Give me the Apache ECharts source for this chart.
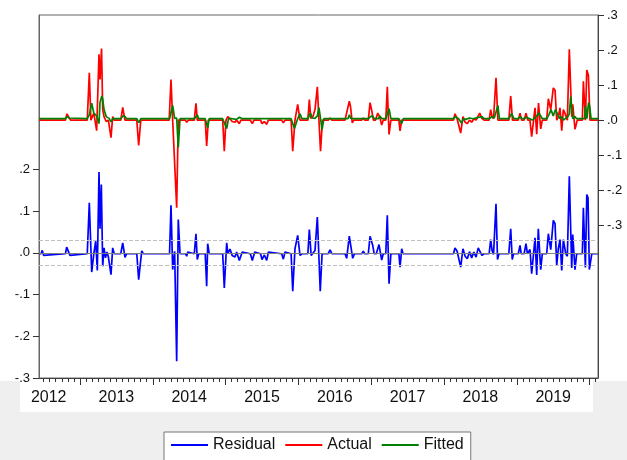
<!DOCTYPE html>
<html>
<head>
<meta charset="utf-8">
<script src="https://cdn.jsdelivr.net/npm/echarts@6/dist/echarts.min.js"></script>
<style>
  html, body { margin: 0; padding: 0; background: #efefef; }
  #chart { width: 627px; height: 460px; }
</style>
</head>
<body>
<div id="chart"></div>
<script>
// [decimal year, value] pairs
var residual = [
  [2012.437,-0.002],[2012.465,-0.002],[2012.482,0.006],[2012.50,-0.006],[2012.52,-0.002],
  [2012.80,-0.002],[2012.817,0.014],[2012.84,0.010],[2012.863,-0.006],[2012.88,-0.002],
  [2013.10,-0.002],[2013.128,0.12],[2013.161,-0.046],[2013.19,-0.002],[2013.216,0.028],[2013.238,-0.042],
  [2013.261,0.194],[2013.275,0.058],[2013.293,0.164],[2013.312,-0.032],[2013.33,0.012],[2013.35,-0.012],
  [2013.37,0.002],[2013.39,-0.010],[2013.426,-0.052],[2013.449,0.012],[2013.47,-0.002],
  [2013.56,-0.002],[2013.587,0.024],[2013.618,-0.011],[2013.64,-0.002],
  [2013.78,-0.002],[2013.806,-0.064],[2013.848,0.005],[2013.87,-0.002],
  [2014.23,-0.002],[2014.250,0.114],[2014.273,-0.040],[2014.30,0.004],[2014.328,-0.26],[2014.350,0.08],[2014.374,-0.002],
  [2014.45,-0.002],[2014.466,-0.008],[2014.48,0.002],[2014.50,-0.002],
  [2014.57,-0.002],[2014.593,0.046],[2014.611,-0.016],[2014.63,-0.002],
  [2014.72,-0.002],[2014.740,-0.08],[2014.754,0.022],[2014.775,-0.002],
  [2014.96,-0.002],[2014.982,-0.084],[2015.015,0.024],[2015.03,-0.002],[2015.06,0.009],[2015.09,-0.006],
  [2015.11,-0.004],[2015.129,-0.010],[2015.152,0.002],[2015.188,-0.018],[2015.229,0.002],[2015.25,-0.002],
  [2015.34,-0.002],[2015.367,-0.018],[2015.40,0.002],[2015.42,-0.002],
  [2015.48,-0.002],[2015.50,-0.016],[2015.532,-0.005],[2015.565,-0.018],[2015.587,0.002],[2015.60,-0.002],
  [2015.77,-0.002],[2015.793,-0.015],[2015.816,0.002],[2015.83,-0.002],
  [2015.90,-0.002],[2015.922,-0.092],[2015.953,0.010],[2015.99,0.042],[2016.022,-0.006],[2016.05,-0.002],
  [2016.13,-0.002],[2016.150,0.056],[2016.175,-0.006],[2016.20,-0.004],[2016.228,0.006],[2016.260,0.086],
  [2016.300,-0.092],[2016.325,-0.002],
  [2016.41,-0.002],[2016.434,0.007],[2016.46,-0.002],
  [2016.64,-0.002],[2016.663,-0.013],[2016.699,0.040],[2016.723,0.038],[2016.746,-0.013],[2016.77,-0.002],
  [2016.87,-0.002],[2016.891,0.004],[2016.91,-0.002],
  [2016.96,-0.002],[2016.984,0.04],[2017.021,0.018],[2017.04,-0.002],[2017.07,-0.002],[2017.107,0.020],
  [2017.144,-0.017],[2017.165,-0.002],
  [2017.20,-0.002],[2017.221,0.090],[2017.245,-0.074],[2017.27,-0.002],
  [2017.38,-0.002],[2017.396,-0.034],[2017.419,0.010],[2017.437,-0.002],
  [2018.13,-0.002],[2018.151,0.012],[2018.18,0.004],[2018.229,-0.034],[2018.26,0.010],[2018.29,-0.008],
  [2018.32,-0.014],[2018.35,0.003],[2018.38,-0.012],[2018.41,0.002],[2018.44,-0.010],[2018.47,0.012],
  [2018.49,0.005],[2018.52,-0.006],[2018.55,-0.002],
  [2018.62,-0.002],[2018.641,0.032],[2018.66,0.006],[2018.68,-0.004],[2018.714,0.118],[2018.735,-0.016],[2018.755,-0.002],
  [2018.89,-0.002],[2018.916,0.058],[2018.937,-0.016],[2018.955,-0.002],
  [2019.02,-0.002],[2019.044,0.018],[2019.06,-0.002],
  [2019.10,-0.002],[2019.126,0.022],[2019.145,-0.002],
  [2019.181,0.008],[2019.204,-0.050],[2019.250,0.036],[2019.273,-0.053],[2019.295,0.058],[2019.328,-0.040],[2019.35,-0.002],
  [2019.41,-0.002],[2019.433,0.046],[2019.466,0.008],[2019.501,0.078],[2019.525,0.070],[2019.548,-0.030],
  [2019.570,0.010],[2019.593,0.032],[2019.617,-0.042],[2019.639,0.032],[2019.672,-0.002],[2019.694,-0.008],
  [2019.721,0.184],[2019.754,-0.036],[2019.768,0.044],[2019.799,-0.040],[2019.822,-0.002],
  [2019.90,-0.002],[2019.914,0.108],[2019.942,-0.035],[2019.961,0.140],[2019.978,0.132],[2019.996,-0.040],[2020.03,-0.002],
  [2020.115,-0.002]
];

var actual = [
  [2012.437,0],[2012.80,0],[2012.821,0.018],[2012.845,0.014],[2012.87,0],
  [2013.10,0],[2013.128,0.135],[2013.15,0.0],[2013.19,0.02],[2013.229,-0.03],[2013.261,0.188],[2013.275,0.116],
  [2013.296,0.204],[2013.312,0.03],[2013.33,0.01],[2013.36,-0.004],[2013.39,0.0],[2013.426,-0.05],[2013.449,0.01],[2013.47,0],
  [2013.56,0],[2013.587,0.036],[2013.618,0.0],[2013.64,0],
  [2013.78,0],[2013.806,-0.072],[2013.835,0],
  [2014.225,0],[2014.250,0.116],[2014.273,0.0],[2014.30,0.005],[2014.328,-0.25],[2014.350,0.0],[2014.374,0],
  [2014.445,0],[2014.466,-0.006],[2014.49,0],
  [2014.57,0],[2014.593,0.048],[2014.611,0.0],[2014.63,0],
  [2014.72,0],[2014.740,-0.074],[2014.762,0],
  [2014.96,0],[2014.982,-0.089],[2015.005,0],[2015.03,0.01],[2015.06,0.004],[2015.09,-0.004],[2015.11,0],
  [2015.129,-0.006],[2015.15,0],[2015.188,-0.01],[2015.21,0],
  [2015.34,0],[2015.367,-0.01],[2015.39,0],
  [2015.48,0],[2015.50,-0.01],[2015.53,-0.004],[2015.565,-0.012],[2015.587,0],
  [2015.77,0],[2015.793,-0.008],[2015.816,0],
  [2015.90,0],[2015.922,-0.089],[2015.953,0],[2015.99,0.045],[2016.022,0.0],[2016.05,0],
  [2016.13,0],[2016.150,0.059],[2016.17,0.005],[2016.20,0.01],[2016.228,0.03],[2016.260,0.095],[2016.282,0.0],
  [2016.304,-0.089],[2016.33,0],
  [2016.41,0],[2016.434,0.006],[2016.46,0],
  [2016.64,0],[2016.663,-0.004],[2016.699,0.054],[2016.715,0.04],[2016.74,-0.008],[2016.76,0],
  [2016.87,0],[2016.891,0.006],[2016.91,0],
  [2016.96,0],[2016.984,0.05],[2017.005,0.03],[2017.03,0.0],[2017.06,0.0],[2017.09,0.02],[2017.115,0.01],
  [2017.144,-0.014],[2017.165,0],
  [2017.20,0],[2017.221,0.095],[2017.245,-0.041],[2017.27,0],
  [2017.38,0],[2017.396,-0.031],[2017.419,0.0],
  [2018.13,0],[2018.151,0.018],[2018.18,0.004],[2018.229,-0.037],[2018.26,0.01],[2018.29,-0.006],[2018.32,-0.01],
  [2018.35,0.0],[2018.38,-0.006],[2018.41,0.004],[2018.44,0.0],[2018.47,0.012],[2018.49,0.02],[2018.52,0.005],[2018.55,0],
  [2018.62,0],[2018.641,0.030],[2018.66,0.01],[2018.68,0.004],[2018.714,0.121],[2018.74,0.0],[2018.76,0],
  [2018.89,0],[2018.916,0.069],[2018.94,0],
  [2019.02,0],[2019.044,0.02],[2019.065,0],[2019.10,0],[2019.126,0.02],[2019.15,0],
  [2019.18,0],[2019.204,-0.047],[2019.250,0.035],[2019.273,-0.040],[2019.298,0.049],[2019.328,-0.025],[2019.35,0],
  [2019.41,0],[2019.433,0.061],[2019.466,0.03],[2019.501,0.092],[2019.525,0.085],[2019.548,0.0],[2019.570,0.01],
  [2019.593,0.035],[2019.617,-0.03],[2019.639,0.03],[2019.66,0.02],[2019.694,0.0],[2019.721,0.202],[2019.754,0.01],
  [2019.768,0.045],[2019.799,-0.026],[2019.83,0],
  [2019.90,0],[2019.914,0.111],[2019.942,0.0],[2019.961,0.143],[2019.983,0.128],[2020.005,0],
  [2020.115,0]
];

var fitted = [
  [2012.437,0.004],[2012.80,0.004],[2012.821,0.01],[2012.85,0.006],[2012.87,0.004],
  [2013.10,0.004],[2013.128,0.015],[2013.161,0.048],[2013.19,0.02],[2013.229,0.012],[2013.261,-0.01],
  [2013.275,0.05],[2013.30,0.069],[2013.312,0.06],[2013.33,0.03],[2013.36,0.01],[2013.40,0.005],[2013.426,-0.005],[2013.45,0.004],
  [2013.56,0.004],[2013.59,0.012],[2013.62,0.01],[2013.64,0.004],
  [2013.78,0.004],[2013.81,-0.007],[2013.835,0.004],
  [2014.23,0.004],[2014.25,0.004],[2014.273,0.042],[2014.30,0.005],[2014.328,0.006],[2014.350,-0.078],[2014.374,0.004],
  [2014.57,0.004],[2014.593,0.004],[2014.611,0.015],[2014.63,0.004],
  [2014.72,0.004],[2014.740,0.004],[2014.754,-0.022],[2014.775,0.004],
  [2014.96,0.004],[2014.982,0.004],[2015.015,-0.024],[2015.04,0.004],
  [2015.09,0.004],[2015.11,0.006],[2015.15,0.002],[2015.19,0.008],[2015.23,0.004],
  [2015.90,0.004],[2015.922,0.004],[2015.945,-0.024],[2015.99,0.004],[2016.022,0.018],[2016.05,0.004],
  [2016.13,0.004],[2016.165,0.02],[2016.19,0.006],[2016.228,0.005],[2016.26,0.012],[2016.282,0.036],
  [2016.304,0.004],[2016.325,-0.027],[2016.35,0.004],
  [2016.68,0.004],[2016.70,0.015],[2016.72,0.005],[2016.746,0.006],[2016.77,0.004],
  [2016.96,0.004],[2016.99,0.01],[2017.02,0.012],[2017.04,0.004],
  [2017.10,0.004],[2017.12,0.012],[2017.145,0.004],
  [2017.20,0.004],[2017.221,0.006],[2017.245,0.033],[2017.27,0.004],
  [2017.38,0.004],[2017.40,0.004],[2017.42,-0.01],[2017.44,0.004],
  [2018.13,0.004],[2018.16,0.01],[2018.20,0.004],[2018.24,-0.008],[2018.27,0.004],[2018.30,0.002],
  [2018.35,0.006],[2018.40,0.004],[2018.47,0.008],[2018.52,0.01],[2018.55,0.004],
  [2018.62,0.004],[2018.66,0.01],[2018.69,0.006],[2018.714,0.006],[2018.74,0.042],[2018.76,0.004],
  [2018.89,0.004],[2018.93,0.019],[2018.96,0.004],
  [2019.02,0.004],[2019.05,0.01],[2019.07,0.004],[2019.10,0.004],[2019.13,0.008],[2019.15,0.004],
  [2019.18,0.004],[2019.21,0.0],[2019.25,0.006],[2019.273,0.012],[2019.30,0.02],[2019.328,0.012],[2019.35,0.004],
  [2019.41,0.004],[2019.44,0.015],[2019.47,0.03],[2019.50,0.012],[2019.53,0.03],[2019.55,0.025],[2019.59,0.004],
  [2019.617,0.01],[2019.64,0.0],[2019.66,0.004],[2019.70,0.01],[2019.721,0.018],[2019.74,0.067],[2019.768,0.004],
  [2019.799,0.01],[2019.82,0.004],
  [2019.90,0.004],[2019.93,0.004],[2019.944,0.04],[2019.963,0.004],[2019.985,0.05],[2020.0,0.04],[2020.02,0.004],
  [2020.115,0.004]
];

var seriesNames = ['Residual', 'Actual', 'Fitted'];
var seriesColors = ['#0000ff', '#ff0000', '#008000'];
var yearLabelPos = [2012.57, 2013.5, 2014.5, 2015.5, 2016.5, 2017.5, 2018.5, 2019.5];
var yearTicks = [2013, 2014, 2015, 2016, 2017, 2018, 2019, 2020];
var leftTicks = [-0.3, -0.2, -0.1, 0, 0.1, 0.2];
var rightTicks = [-0.3, -0.2, -0.1, 0, 0.1, 0.2, 0.3];
var seBand = 0.032;

var xMin = 2012.437, xMax = 2020.115;
// monthly tick positions (Jul 2012 .. Feb 2020)
var monthTicks = [];
for (var m = 0; m < 92; m++) monthTicks.push(2012.5 + m / 12);

var fmt = function (v) {
  if (Math.abs(v) < 1e-9) return '.0';
  return (v < 0 ? '-' : '') + '.' + Math.round(Math.abs(v) * 10);
};

var chart = echarts.init(document.getElementById('chart'));
var font = 'Arial, "Liberation Sans", sans-serif';
var axisColor = '#666';
var tickColor = '#333';

chart.setOption({
  animation: false,
  backgroundColor: '#efefef',
  graphic: [
    { type: 'rect', z: -100, shape: { x: 0, y: 0, width: 627, height: 381 }, style: { fill: '#ffffff' } },
    { type: 'rect', z: -100, shape: { x: 20, y: 381, width: 573, height: 31 }, style: { fill: '#ffffff' } }
  ],
  grid: {
    left: 39, right: 29, top: 15, bottom: 82,
    show: true, borderColor: axisColor, borderWidth: 1, backgroundColor: '#ffffff'
  },
  legend: {
    data: seriesNames,
    left: 164, top: 432,
    padding: [5, 7, 30, 7],
    backgroundColor: '#ffffff',
    borderColor: '#777',
    borderWidth: 1,
    borderRadius: 0,
    icon: 'rect',
    itemWidth: 37,
    itemHeight: 2,
    itemGap: 10,
    textStyle: { fontSize: 16, color: '#111', fontFamily: font }
  },
  xAxis: [
    {
      type: 'value', min: xMin, max: xMax, position: 'bottom',
      axisLine: { show: true, onZero: false, lineStyle: { color: '#444' } },
      axisTick: { show: true, customValues: yearTicks, length: 7, lineStyle: { color: tickColor } },
      axisLabel: {
        customValues: yearLabelPos, margin: 12, fontSize: 16, color: '#111', fontFamily: font,
        formatter: function (v) { return String(Math.floor(v)); }
      },
      splitLine: { show: false }
    },
    {
      type: 'value', min: xMin, max: xMax, position: 'bottom',
      axisLine: { show: false, onZero: false },
      axisTick: { show: true, customValues: monthTicks, length: 4, lineStyle: { color: tickColor } },
      axisLabel: { show: false },
      splitLine: { show: false }
    }
  ],
  yAxis: [
    {
      type: 'value', position: 'left', min: -0.3, max: 0.5705,
      axisLine: { show: true, onZero: false, lineStyle: { color: axisColor } },
      axisTick: { show: true, customValues: leftTicks, length: 6, lineStyle: { color: tickColor } },
      axisLabel: { customValues: leftTicks, formatter: fmt, margin: 9, fontSize: 13, color: '#111', fontFamily: font },
      splitLine: { show: false }
    },
    {
      type: 'value', position: 'right', min: -0.736, max: 0.3,
      axisLine: { show: true, onZero: false, lineStyle: { color: '#444' } },
      axisTick: { show: true, customValues: rightTicks, length: 6, lineStyle: { color: tickColor } },
      axisLabel: { customValues: rightTicks, formatter: fmt, margin: 9, fontSize: 13, color: '#111', fontFamily: font },
      splitLine: { show: false }
    }
  ],
  series: [
    {
      type: 'line', data: [], yAxisIndex: 0, silent: true,
      markLine: {
        silent: true, symbol: 'none', label: { show: false },
        data: [
          { yAxis: 0, lineStyle: { color: '#808080', type: 'solid', width: 1 } },
          { yAxis: seBand, lineStyle: { color: '#c0c0c0', type: 'dashed', width: 1 } },
          { yAxis: -seBand, lineStyle: { color: '#c0c0c0', type: 'dashed', width: 1 } }
        ]
      }
    },
    {
      name: seriesNames[0], type: 'line', data: residual, yAxisIndex: 0,
      showSymbol: false, lineStyle: { color: seriesColors[0], width: 1.7 }, itemStyle: { color: seriesColors[0] }
    },
    {
      name: seriesNames[1], type: 'line', data: actual, yAxisIndex: 1,
      showSymbol: false, lineStyle: { color: seriesColors[1], width: 1.7 }, itemStyle: { color: seriesColors[1] }
    },
    {
      name: seriesNames[2], type: 'line', data: fitted, yAxisIndex: 1,
      showSymbol: false, lineStyle: { color: seriesColors[2], width: 1.7 }, itemStyle: { color: seriesColors[2] }
    }
  ]
});
</script>
</body>
</html>
